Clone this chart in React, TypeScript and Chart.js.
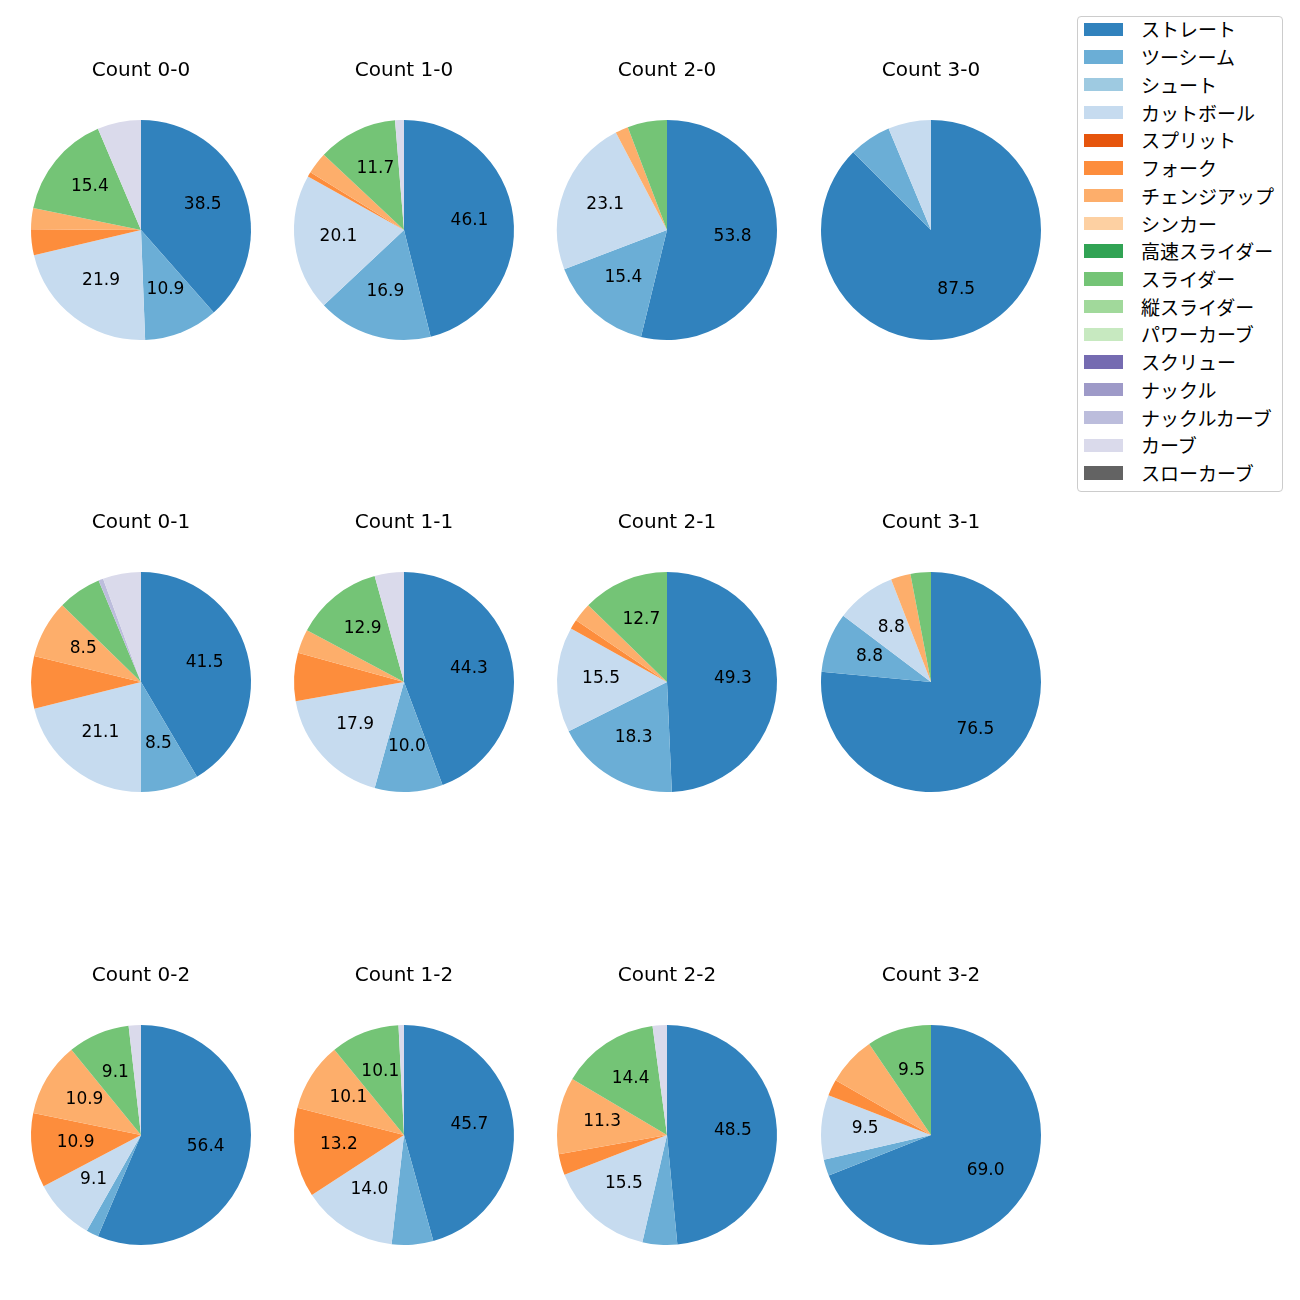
import React, { useEffect, useRef } from 'react';
import { Chart, registerables } from 'chart.js';

Chart.register(...registerables);

// ---- data ----
const PITCH_TYPES = [
  'ストレート', 'ツーシーム', 'シュート', 'カットボール', 'スプリット', 'フォーク',
  'チェンジアップ', 'シンカー', '高速スライダー', 'スライダー', '縦スライダー',
  'パワーカーブ', 'スクリュー', 'ナックル', 'ナックルカーブ', 'カーブ', 'スローカーブ',
];

const PITCH_COLORS = [
  '#3182bd', '#6baed6', '#9ecae1', '#c6dbef', '#e6550d', '#fd8d3c', '#fdae6b', '#fdd0a2',
  '#31a354', '#74c476', '#a1d99b', '#c7e9c0', '#756bb1', '#9e9ac8', '#bcbddc', '#dadaeb', '#636363',
];

const COUNT_TITLES = [
  'Count 0-0', 'Count 1-0', 'Count 2-0', 'Count 3-0',
  'Count 0-1', 'Count 1-1', 'Count 2-1', 'Count 3-1',
  'Count 0-2', 'Count 1-2', 'Count 2-2', 'Count 3-2',
];

// values in percent, in the order of PITCH_TYPES
const count00 = [38.5, 10.9, 0, 21.9, 0, 3.8, 3.1, 0, 0, 15.4, 0, 0, 0, 0, 0, 6.4, 0];
const count10 = [46.1, 16.9, 0, 20.1, 0, 0.7, 3.2, 0, 0, 11.7, 0, 0, 0, 0, 0, 1.3, 0];
const count20 = [53.8, 15.4, 0, 23.1, 0, 0, 1.9, 0, 0, 5.8, 0, 0, 0, 0, 0, 0, 0];
const count30 = [87.5, 6.2, 0, 6.3, 0, 0, 0, 0, 0, 0, 0, 0, 0, 0, 0, 0, 0];
const count01 = [41.5, 8.5, 0, 21.1, 0, 7.7, 8.5, 0, 0, 6.4, 0, 0, 0, 0, 0.7, 5.6, 0];
const count11 = [44.3, 10.0, 0, 17.9, 0, 7.1, 3.5, 0, 0, 12.9, 0, 0, 0, 0, 0, 4.3, 0];
const count21 = [49.3, 18.3, 0, 15.5, 0, 1.4, 2.8, 0, 0, 12.7, 0, 0, 0, 0, 0, 0, 0];
const count31 = [76.5, 8.8, 0, 8.8, 0, 0, 2.9, 0, 0, 3.0, 0, 0, 0, 0, 0, 0, 0];
const count02 = [56.4, 1.8, 0, 9.1, 0, 10.9, 10.9, 0, 0, 9.1, 0, 0, 0, 0, 0, 1.8, 0];
const count12 = [45.7, 6.1, 0, 14.0, 0, 13.2, 10.1, 0, 0, 10.1, 0, 0, 0, 0, 0, 0.8, 0];
const count22 = [48.5, 5.1, 0, 15.5, 0, 3.1, 11.3, 0, 0, 14.4, 0, 0, 0, 0, 0, 2.1, 0];
const count32 = [69.0, 2.4, 0, 9.5, 0, 2.4, 7.2, 0, 0, 9.5, 0, 0, 0, 0, 0, 0, 0];

const COUNT_VALUES = [
  count00, count10, count20, count30,
  count01, count11, count21, count31,
  count02, count12, count22, count32,
];

const LABEL_MIN_PCT = 8;

// ---- layout ----
const COL_X = [140.5, 404, 667, 930.5];
const ROW_Y = [230, 682, 1135];
const RADIUS = 110;
const CANVAS_W = 260;
const CANVAS_H = 310;
const PAD_TOP = 80;

const TITLE_FONT = '20px "DejaVu Sans", "Noto Sans CJK JP", sans-serif';
const LABEL_FONT = '17px "DejaVu Sans", "Noto Sans CJK JP", sans-serif';
const LEGEND_FONT = '"Noto Sans CJK JP", "DejaVu Sans", sans-serif';

function PieChart({ title, values, cx, cy }: { title: string; values: number[]; cx: number; cy: number }) {
  const ref = useRef<HTMLCanvasElement>(null);
  useEffect(() => {
    const canvas = ref.current;
    if (!canvas) return;
    const total = values.reduce((a, b) => a + b, 0);
    const textPlugin = {
      id: 'pieText',
      afterDatasetsDraw(chart: any) {
        const ctx = chart.ctx;
        const meta = chart.getDatasetMeta(0);
        ctx.save();
        ctx.fillStyle = '#000';
        ctx.textAlign = 'center';
        ctx.textBaseline = 'alphabetic';
        let centerX = CANVAS_W / 2;
        let centerY = PAD_TOP + RADIUS;
        meta.data.forEach((arc: any, i: number) => {
          const p = arc.getProps(['x', 'y', 'startAngle', 'endAngle', 'outerRadius'], true);
          centerX = p.x;
          centerY = p.y;
          const pct = (values[i] / total) * 100;
          if (pct < LABEL_MIN_PCT) return;
          const mid = (p.startAngle + p.endAngle) / 2;
          const r = 0.6 * p.outerRadius;
          ctx.font = LABEL_FONT;
          ctx.fillText(pct.toFixed(1), p.x + Math.cos(mid) * r, p.y + Math.sin(mid) * r + 2.8);
        });
        ctx.font = TITLE_FONT;
        ctx.fillText(title, centerX, centerY - 154.3);
        ctx.restore();
      },
    };
    const chart = new Chart(canvas, {
      type: 'pie',
      data: {
        labels: PITCH_TYPES,
        datasets: [
          {
            data: values,
            backgroundColor: PITCH_COLORS,
            borderWidth: 0,
            hoverOffset: 0,
            offset: 0,
          } as any,
        ],
      },
      options: {
        responsive: false,
        animation: false,
        events: [],
        layout: { padding: { top: PAD_TOP, bottom: CANVAS_H - PAD_TOP - 2 * RADIUS, left: (CANVAS_W - 2 * RADIUS) / 2, right: (CANVAS_W - 2 * RADIUS) / 2 } },
        plugins: {
          legend: { display: false },
          tooltip: { enabled: false },
          title: { display: false },
        },
      } as any,
      plugins: [textPlugin],
    });
    return () => chart.destroy();
  }, [title, values]);
  return (
    <canvas
      ref={ref}
      width={CANVAS_W}
      height={CANVAS_H}
      style={{ position: 'absolute', left: cx - CANVAS_W / 2, top: cy - PAD_TOP - RADIUS, width: CANVAS_W, height: CANVAS_H }}
    />
  );
}

function Legend() {
  const rowH = 27.73;
  const firstCenter = 29.3;
  const boxLeft = 1077;
  const boxTop = 15.5;
  return (
    <div
      style={{
        position: 'absolute',
        left: boxLeft,
        top: boxTop,
        width: 205.5,
        height: 476,
        boxSizing: 'border-box',
        border: '1px solid #cccccc',
        borderRadius: 4,
        background: '#fff',
      }}
    >
      {PITCH_TYPES.map((name, i) => {
        const cyRow = firstCenter + rowH * i - boxTop - 1;
        return (
          <div key={name}>
            <div
              style={{
                position: 'absolute',
                left: 1084 - boxLeft - 1,
                top: cyRow - 6.7,
                width: 38.5,
                height: 13.4,
                background: PITCH_COLORS[i],
              }}
            />
            <div
              style={{
                position: 'absolute',
                left: 1141 - boxLeft - 1,
                top: cyRow - rowH / 2,
                height: rowH,
                lineHeight: rowH + 'px',
                fontFamily: LEGEND_FONT,
                fontSize: 19,
                color: '#000',
                whiteSpace: 'nowrap',
              }}
            >
              {name}
            </div>
          </div>
        );
      })}
    </div>
  );
}

export default function App() {
  return (
    <div style={{ position: 'absolute', left: 0, top: 0, width: 1300, height: 1300, background: '#fff', overflow: 'hidden' }}>
      {COUNT_TITLES.map((t, i) => (
        <PieChart key={t} title={t} values={COUNT_VALUES[i]} cx={COL_X[i % 4]} cy={ROW_Y[Math.floor(i / 4)]} />
      ))}
      <Legend />
    </div>
  );
}
